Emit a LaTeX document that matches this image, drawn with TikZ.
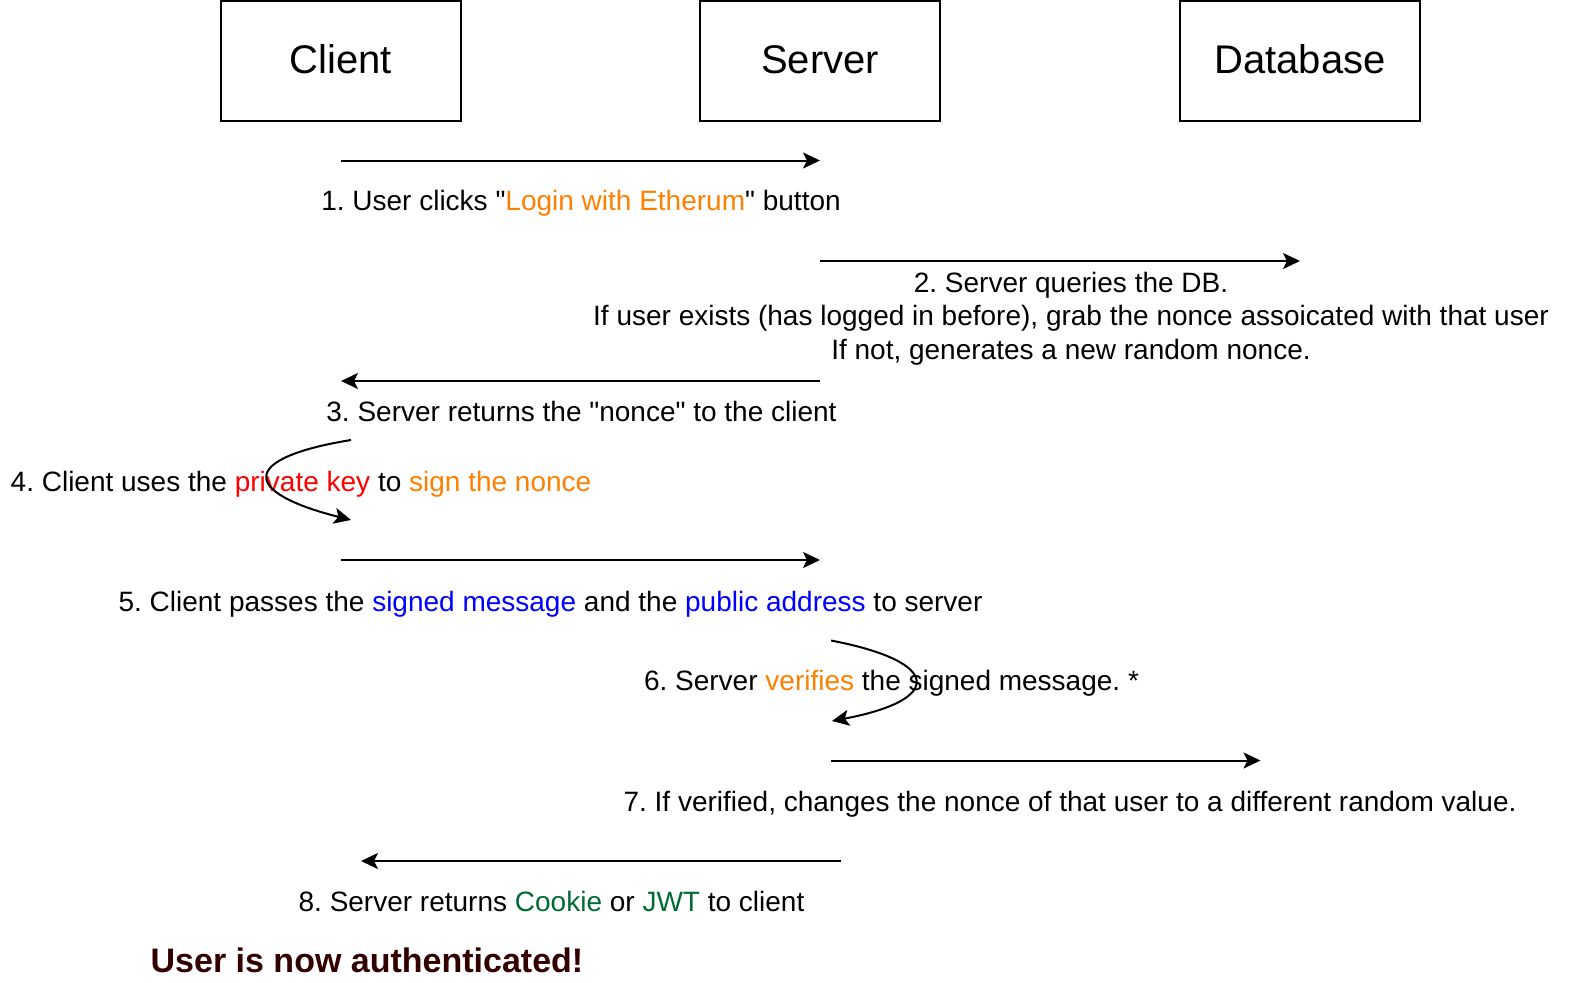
\documentclass[tikz,border=0pt]{standalone}
\usepackage{fontspec}
\setmainfont{Liberation Sans}[Ligatures=TeXOff]
\usetikzlibrary{arrows.meta}
\definecolor{orng}{HTML}{FF8000}
\definecolor{rd}{HTML}{FF0000}
\definecolor{bl}{HTML}{0000FF}
\definecolor{grn}{HTML}{006B33}
\definecolor{dred}{HTML}{330000}
\frenchspacing
\tikzset{
  actor/.style={draw, line width=2pt, minimum width=240pt, minimum height=120pt, inner sep=0pt, font=\fontsize{40}{48}\selectfont},
  msg/.style={line width=2pt, -{Stealth[length=17pt, width=16pt, inset=4pt]}},
  lbl/.style={inner sep=0pt, anchor=base, font=\fontsize{28}{33.5}\selectfont},
}
\begin{document}
\begin{tikzpicture}[x=1pt, y=-1pt]
\useasboundingbox (0,0) rectangle (1594,982);
% actors
\node[actor] (client) at (341,61) {};
\node[actor] (server) at (820,61) {};
\node[actor] (db) at (1300,61) {};
\node[lbl, font=\fontsize{40}{48}\selectfont] (clientT) at (341,73.5) {Client};
\node[lbl, font=\fontsize{40}{48}\selectfont] (serverT) at (820,73.5) {Server};
\node[lbl, font=\fontsize{40}{48}\selectfont] (dbT) at (1300,73.5) {Database};
% endpoints
\coordinate (a1s) at (341,160.5);
\coordinate (a1e) at (820,160.5);
\coordinate (a2s) at (820,261);
\coordinate (a2e) at (1300,261);
\coordinate (a3s) at (820,381);
\coordinate (a3e) at (341,381);
\coordinate (a4s) at (351,440);
\coordinate (a4e) at (351,520);
\coordinate (a5s) at (341,560);
\coordinate (a5e) at (820,560);
\coordinate (a6s) at (831,640.5);
\coordinate (a6e) at (832,721);
\coordinate (a7s) at (830.5,760.5);
\coordinate (a7e) at (1260.5,760.5);
\coordinate (a8s) at (840.5,861);
\coordinate (a8e) at (361,861);
% messages
\draw[msg] (a1s) -- (a1e);
\node[lbl] (l1) at (581,210) {1. User clicks "\textcolor{orng}{Login with Etherum}" button};
\draw[msg] (a2s) -- (a2e);
\node[inner sep=0pt, align=center, font=\fontsize{28}{33.5}\selectfont] (l2) at (1071,318.5) {2. Server queries the DB.\\If user exists (has logged in before), grab the nonce assoicated with that user\\If not, generates a new random nonce.};
\draw[msg] (a3s) -- (a3e);
\node[lbl] (l3) at (581.5,421) {3. Server returns the "nonce" to the client};
\node[lbl] (l4) at (301,491) {4. Client uses the \textcolor{rd}{private key} to \textcolor{orng}{sign the nonce}};
\draw[msg] (a4s) .. controls (240,458) and (240,492) .. (a4e);
\draw[msg] (a5s) -- (a5e);
\node[lbl] (l5) at (550.5,611) {5. Client passes the \textcolor{bl}{signed message} and the \textcolor{bl}{public address} to server};
\node[lbl] (l6) at (891.5,690) {6. Server \textcolor{orng}{verifies} the signed message. *};
\draw[msg] (a6s) .. controls (943,662) and (943,700) .. (a6e);
\draw[msg] (a7s) -- (a7e);
\node[lbl] (l7) at (1070,811) {7. If verified, changes the nonce of that user to a different random value.};
\draw[msg] (a8s) -- (a8e);
\node[lbl] (l8) at (551.5,911) {8. Server returns \textcolor{grn}{Cookie} or \textcolor{grn}{JWT} to client};
\node[inner sep=0pt, anchor=base, text=dred, font=\fontsize{34}{40}\selectfont\bfseries] (done) at (367,972) {User is now authenticated!};
\end{tikzpicture}
\end{document}
